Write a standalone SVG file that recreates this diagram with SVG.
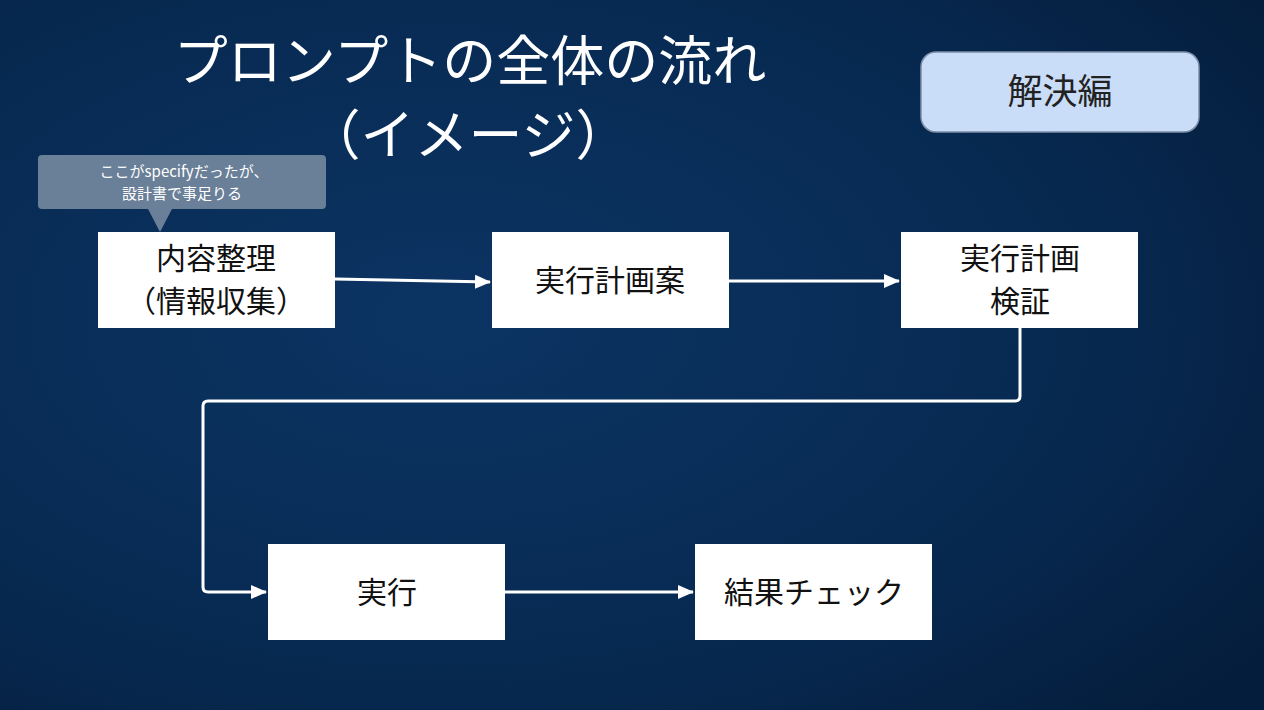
<svg xmlns="http://www.w3.org/2000/svg" width="1264" height="710" viewBox="0 0 1264 710">
<defs>
<radialGradient id="bg" cx="0.35" cy="0.45" r="0.8">
<stop offset="0" stop-color="#0c3463"/>
<stop offset="0.6" stop-color="#072a52"/>
<stop offset="1" stop-color="#051d3c"/>
</radialGradient>
<marker id="ah" markerWidth="16" markerHeight="14" refX="15" refY="7" orient="auto" markerUnits="userSpaceOnUse">
<path d="M0,0 L16,7 L0,14 Z" fill="#ffffff"/>
</marker>
<style>
.jp{font-family:"Noto Sans CJK JP","Noto Sans",sans-serif;}
.box{fill:#ffffff;}
.lbl{font-size:30px;fill:#111;text-anchor:middle;}
.conn{fill:none;stroke:#ffffff;stroke-width:3;stroke-linejoin:round;}
</style>
</defs>
<rect width="1264" height="710" fill="url(#bg)"/>
<g id="title" class="jp" fill="#ffffff" font-size="54" text-anchor="middle">
<text x="470" y="81">プロンプトの全体の流れ</text>
<text x="468" y="155">（イメージ）</text>
</g>
<g id="tag">
<rect x="921" y="52" width="278" height="80" rx="15" fill="#c9dcf8" stroke="#7d8ea6" stroke-width="1.5"/>
<text class="jp" x="1060" y="104" font-size="35" fill="#222" text-anchor="middle">解決編</text>
</g>
<g id="callout">
<path d="M42,155 H322 Q326,155 326,159 V205 Q326,209 322,209 H172 L160,232 L148,209 H42 Q38,209 38,205 V159 Q38,155 42,155 Z" fill="#6a7f98"/>
<text class="jp" x="184" y="177" font-size="15" fill="#ffffff" text-anchor="middle">ここがspecifyだったが、</text>
<text class="jp" x="182" y="199" font-size="15" fill="#ffffff" text-anchor="middle">設計書で事足りる</text>
</g>
<g id="connectors">
<path class="conn" d="M335,279 L490,282" marker-end="url(#ah)"/>
<path class="conn" d="M729,281 L899,281" marker-end="url(#ah)"/>
<path class="conn" d="M1020,328 V396 Q1020,401 1015,401 H208 Q203,401 203,406 V587 Q203,592 208,592 H266" marker-end="url(#ah)"/>
<path class="conn" d="M505,592 L693,592" marker-end="url(#ah)"/>
</g>
<g id="n1">
<rect class="box" x="98" y="232" width="237" height="96"/>
<text class="jp lbl" x="216" y="269">内容整理</text>
<text class="jp lbl" x="216" y="312">（情報収集）</text>
</g>
<g id="n2">
<rect class="box" x="492" y="232" width="237" height="96"/>
<text class="jp lbl" x="610" y="291">実行計画案</text>
</g>
<g id="n3">
<rect class="box" x="901" y="232" width="237" height="96"/>
<text class="jp lbl" x="1020" y="269">実行計画</text>
<text class="jp lbl" x="1020" y="312">検証</text>
</g>
<g id="n4">
<rect class="box" x="268" y="544" width="237" height="96"/>
<text class="jp lbl" x="387" y="603">実行</text>
</g>
<g id="n5">
<rect class="box" x="695" y="544" width="237" height="96"/>
<text class="jp lbl" x="814" y="603">結果チェック</text>
</g>
</svg>
